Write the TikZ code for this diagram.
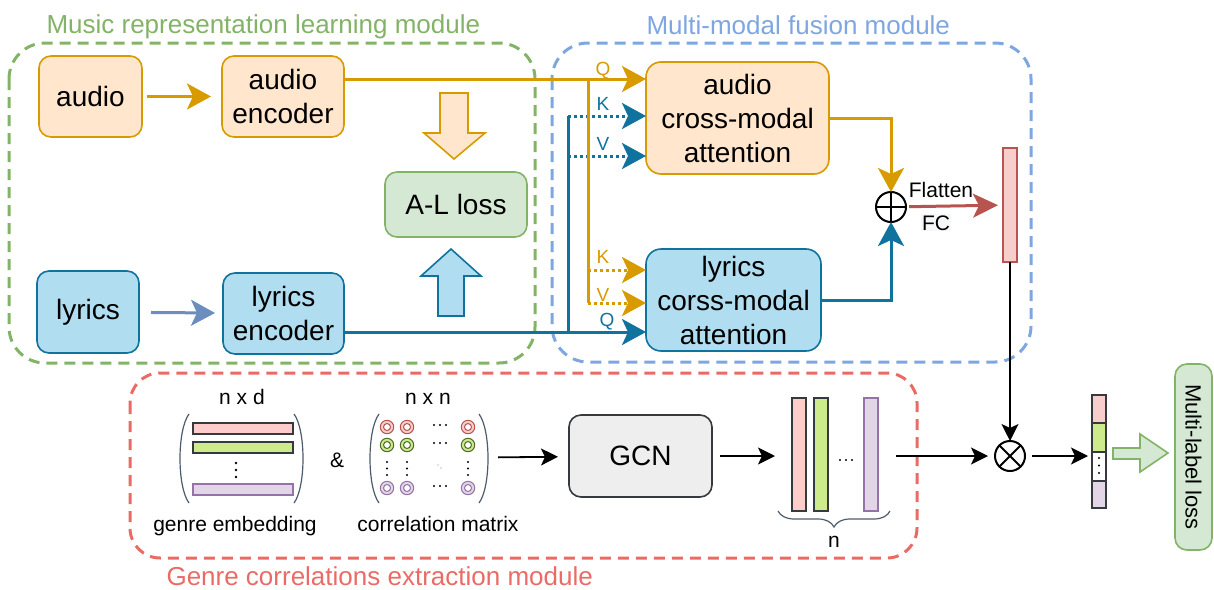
\documentclass[tikz,border=0pt]{standalone}
\usepackage{fontspec}
\setmainfont{Liberation Sans}
\usepackage{tikz}
\usetikzlibrary{arrows.meta}
\usetikzlibrary{positioning}
\usetikzlibrary{decorations.pathreplacing}
\definecolor{aoline}{HTML}{D79B00}
\definecolor{aofill}{HTML}{FFE6CC}
\definecolor{lbline}{HTML}{10739E}
\definecolor{lbfill}{HTML}{B1DDF0}
\definecolor{mgline}{HTML}{82B366}
\definecolor{mgfill}{HTML}{D5E8D4}
\definecolor{mrline}{HTML}{B85450}
\definecolor{mrfill}{HTML}{F8CECC}
\definecolor{mpline}{HTML}{9673A6}
\definecolor{mpfill}{HTML}{E1D5E7}
\definecolor{mlime}{HTML}{CDEB8B}
\definecolor{mlimedark}{HTML}{4F6B2A}
\definecolor{mpink}{HTML}{FFCCCC}
\definecolor{mdark}{HTML}{36393D}
\definecolor{gcnfill}{HTML}{EEEEEE}
\definecolor{fblue}{HTML}{7EA6E0}
\definecolor{fred}{HTML}{EA6B66}
\definecolor{lyarrow}{HTML}{6C8EBF}
\definecolor{bracec}{HTML}{4D5B6B}
\definecolor{fcbg}{HTML}{F6F7F9}

\begin{document}
\begin{tikzpicture}[x=1pt, y=-1pt,
    box/.style={draw, rounded corners=12pt, line width=1.6pt, inner sep=0pt, outer sep=0pt, align=center, font=\fontsize{28}{34}\selectfont},
    obox/.style={box, fill=aofill, draw=aoline},
    bbox/.style={box, fill=lbfill, draw=lbline},
    gbox/.style={box, fill=mgfill, draw=mgline},
    bar/.style={draw, line width=1.5pt, inner sep=0pt, outer sep=0pt, minimum width=14pt, minimum height=113pt},
    module/.style={dash pattern=on 11pt off 7pt, line width=3pt, rounded corners=36pt},
    title/.style={anchor=base west, font=\fontsize{26}{30}\selectfont},
    lbl/.style={anchor=base, font=\fontsize{21}{24}\selectfont},
    qkv/.style={anchor=base, font=\fontsize{19}{21}\selectfont},
    arr/.style={-{Stealth[length=24pt,width=26pt,inset=6pt]}},
    arrs/.style={-{Stealth[length=17pt,width=17pt,inset=4pt]}},
    oline/.style={draw=aoline, line width=3pt},
    bline/.style={draw=lbline, line width=3pt},
    odot/.style={oline, dash pattern=on 3pt off 3pt},
    bdot/.style={bline, dash pattern=on 3pt off 3pt},
    kline/.style={draw=black, line width=1.8pt},
    paren/.style={draw=bracec, line width=1.2pt},
    opnode/.style={circle, draw, line width=2pt, minimum size=30pt, inner sep=0pt, outer sep=0pt}]
  \useasboundingbox (0,0) rectangle (1214,589);

  \draw [module, draw=mgline] (9,43) rectangle (535,363);
  \draw [module, draw=fblue] (552,43) rectangle (1031,362);
  \draw [module, draw=fred, rounded corners=30pt] (130,373) rectangle (917,558);
  \node [title, text=mgline] (tmusic) at (43,33) {Music representation learning module};
  \node [title, text=fblue] (tfusion) at (643,34) {Multi-modal fusion module};
  \node [title, text=fred] (tgenre) at (163,585) {Genre correlations extraction module};

  \node [obox, minimum width=103pt, minimum height=81pt] (audio) at (90.5,96.5) {audio};
  \node [obox, minimum width=122pt, minimum height=81pt] (aenc) at (283,96.5) {audio\\encoder};
  \node [bbox, minimum width=102pt, minimum height=82pt] (lyrics) at (88,312) {lyrics};
  \node [bbox, minimum width=121pt, minimum height=81pt] (lenc) at (283.5,313.5) {lyrics\\encoder};
  \node [gbox, minimum width=142pt, minimum height=65pt] (alloss) at (456,204.5) {A-L loss};
  \node [obox, minimum width=183pt, minimum height=112pt, rounded corners=15pt] (aatt) at (737.5,118) {audio\\cross-modal\\attention};
  \node [bbox, minimum width=175pt, minimum height=102pt, rounded corners=15pt] (latt) at (733.5,300) {lyrics\\corss-modal\\attention};

  \draw [oline, arr, shorten <=5pt, shorten >=11pt] (audio) -- (aenc);
  \draw [draw=lyarrow, line width=3pt, arr, shorten <=12pt, shorten >=8pt] (lyrics) -- (lenc);
  \draw [fill=aofill, draw=aoline, line width=1.6pt] (440,93) -- (468,93) -- (468,133) -- (485,133) -- (454,159) -- (424,133) -- (440,133) -- cycle;
  \draw [fill=lbfill, draw=lbline, line width=1.6pt] (438,316) -- (464,316) -- (464,276) -- (481,276) -- (451,249) -- (421,276) -- (438,276) -- cycle;

  \coordinate (qa) at (588,79);
  \coordinate (ka) at (588,270);
  \coordinate (va) at (588,303);
  \coordinate (qb) at (568,332);
  \coordinate (kb) at (568,116);
  \coordinate (vb) at (568,156);
  \draw [bline, arr] (lenc.east |- qb) -- (latt.west |- qb);
  \draw [bline] (qb) -- (kb);
  \draw [bdot, arr] (kb) -- (aatt.west |- kb);
  \draw [bdot, arr] (vb) -- (aatt.west |- vb);
  \draw [oline, arr] (aenc.east |- qa) -- (aatt.west |- qa);
  \draw [oline] (qa) -- (va);
  \draw [odot, arr] (ka) -- (latt.west |- ka);
  \draw [odot, arr] (va) -- (latt.west |- va);
  \node [qkv, text=aoline] (qlabA) at (603,75) {Q};
  \node [qkv, text=lbline] (klabB) at (603,110) {K};
  \node [qkv, text=lbline] (vlabB) at (603,150) {V};
  \node [qkv, text=aoline] (klabA) at (603,263) {K};
  \node [qkv, text=aoline] (vlabA) at (603,301) {V};
  \node [qkv, text=lbline] (qlabB) at (607,326) {Q};

  \node [opnode] (oplus) at (891,207) {};
  \draw [line width=2pt] (oplus.north) -- (oplus.south) (oplus.west) -- (oplus.east);
  \draw [oline, arr] (aatt.east) -| (oplus.north);
  \draw [bline, arr] (latt.east) -| (oplus.south);
  \node [bar, fill=mrfill, draw=mrline, minimum height=114pt] (fbar) at (1010,205) {};
  \draw [draw=mrline, line width=3pt, -{Stealth[length=25pt,width=24pt,inset=6pt]}, shorten <=3pt, shorten >=5pt] (oplus) -- (fbar);
  \node [lbl] (flatten) at (941,197) {Flatten};
  \node [lbl, fill=fcbg, inner sep=1pt] (fc) at (936,230) {FC};

  \node [lbl] (nxd) at (242,404) {n x d};
  \node [lbl] (nxn) at (428,404) {n x n};
  \node [lbl] (amp) at (337,467) {\&};
  \node [lbl] (gemb) at (235,531) {genre embedding};
  \node [lbl] (cmat) at (438,531) {correlation matrix};
  \draw [paren] (189,414) .. controls (177,430) and (177,487) .. (189,503);
  \draw [paren] (294,414) .. controls (306,430) and (306,487) .. (294,503);
  \draw [paren] (379,414) .. controls (367,430) and (367,487) .. (379,503);
  \draw [paren] (479,414) .. controls (491,430) and (491,487) .. (479,503);
  \draw [fill=mpink, draw=mdark, line width=1.5pt] (193,423) rectangle (293,434);
  \draw [fill=mlime, draw=mdark, line width=1.5pt] (193,442) rectangle (293,453);
  \draw [fill=mpfill, draw=mpline, line width=1.5pt] (193,484) rectangle (293,495);
  \foreach \y in {463,470,477} \fill (236,\y) circle [radius=1.3pt];
  \foreach \cx in {387,407,468} {
    \foreach \cy/\cf/\cd in {427/mrfill/mrline, 445/mlime/mlimedark, 488/mpfill/mpline} {
      \draw [fill=\cf, draw=\cd, line width=1pt] (\cx,\cy) circle [radius=6.7pt];
      \draw [fill=white, draw=\cd, line width=1pt] (\cx,\cy) circle [radius=3.5pt];
    }
    \foreach \y in {462,468.5,475} \fill (\cx,\y) circle [radius=1.2pt];
  }
  \foreach \cy in {425,443,486} {
    \foreach \x in {434,440,446} \fill (\x,\cy) circle [radius=1.1pt];
  }
  \fill [gray] (438,465) circle [radius=0.6pt] (441,468) circle [radius=0.6pt];
  \node [inner sep=0pt, outer sep=0pt, minimum width=118pt, minimum height=90pt] (corr) at (429,458) {};

  \node [box, fill=gcnfill, draw=mdark, minimum width=143pt, minimum height=82pt] (gcn) at (640.5,456) {GCN};
  \draw [kline, arrs, shorten <=10pt, shorten >=11pt] (corr) -- (gcn);
  \node [bar, fill=mpink, draw=mdark] (fb1) at (799,454.5) {};
  \node [bar, fill=mlime, draw=mdark] (fb2) at (821,454.5) {};
  \node [bar, fill=mpfill, draw=mpline] (fb3) at (871,454.5) {};
  \foreach \x in {840,846,852} \fill (\x,460) circle [radius=1.2pt];
  \draw [kline, arrs, shorten <=8pt, shorten >=17pt] (gcn.east) -- (gcn.east -| fb1.west);
  \draw [draw=bracec, line width=1.2pt, decorate, decoration={brace, mirror, amplitude=16pt}] (778,511) -- (890,511);
  \node [lbl] (nlab) at (834,547) {n};

  \node [opnode] (otimes) at (1010,456) {};
  \draw [line width=2pt] (otimes.north east) -- (otimes.south west) (otimes.north west) -- (otimes.south east);
  \draw [draw=black, line width=1.5pt, arrs] (fbar.south) -- (otimes.north);
  \draw [kline, arrs, shorten <=18pt, shorten >=7pt] (fb3.east |- otimes) -- (otimes.west);

  \node [inner sep=0pt, outer sep=0pt, minimum width=14pt, minimum height=113pt] (vec) at (1099,451.5) {};
  \draw [fill=mrfill, draw=mdark, line width=1.2pt] (1092,395) rectangle (1106,423);
  \draw [fill=mlime, draw=mdark, line width=1.2pt] (1092,423) rectangle (1106,452);
  \draw [fill=white, draw=mdark, line width=1.2pt] (1092,452) rectangle (1106,481);
  \draw [fill=mpfill, draw=mdark, line width=1.2pt] (1092,481) rectangle (1106,508);
  \foreach \y in {458,465.5,473} \fill (1099,\y) circle [radius=1.1pt];
  \draw [kline, arrs, shorten <=7pt, shorten >=4pt] (otimes.east) -- (otimes.east -| vec.west);

  \node [gbox, rotate=-90, minimum width=186pt, minimum height=37pt, font=\fontsize{22}{26}\selectfont] (mll) at (1193.5,457) {Multi-label loss};
  \draw [fill=mgfill, draw=mgline, line width=1.6pt] (1113,448) -- (1140,448) -- (1140,434) -- (1168,453) -- (1140,472) -- (1140,459) -- (1113,459) -- cycle;
\end{tikzpicture}
\end{document}
